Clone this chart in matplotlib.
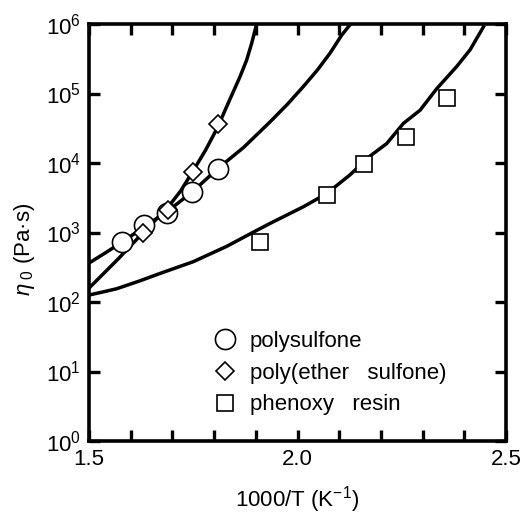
import numpy as np
import matplotlib
matplotlib.use("Agg")
import matplotlib.pyplot as plt
from matplotlib.ticker import MultipleLocator, LogFormatterSciNotation, FixedLocator, FixedFormatter, NullLocator

plt.rcParams['font.family'] = ['Liberation Sans', 'DejaVu Sans']
plt.rcParams['mathtext.fontset'] = 'custom'
plt.rcParams['mathtext.rm'] = 'Liberation Sans'
plt.rcParams['mathtext.it'] = 'Liberation Sans:italic'

# measured points
psf_x = [1.579, 1.632, 1.687, 1.747, 1.809]
psf_y = [730, 1300, 1900, 3800, 8200]
pes_x = [1.630, 1.689, 1.749, 1.809]
pes_y = [1000, 2100, 7400, 36500]
phx_x = [1.910, 2.071, 2.160, 2.260, 2.358]
phx_y = [730, 3450, 9700, 23600, 86000]

# fitted curves (log10 values)
psf_cx = [1.50, 1.540, 1.579, 1.632, 1.687, 1.747, 1.809, 1.870, 1.934, 1.975, 2.014, 2.048, 2.078, 2.106, 2.126]
psf_cl = [2.56, 2.71, 2.86, 3.08, 3.30, 3.58, 3.92, 4.22, 4.59, 4.84, 5.10, 5.34, 5.58, 5.84, 5.99]
pes_cx = [1.50, 1.535, 1.570, 1.630, 1.689, 1.720, 1.749, 1.780, 1.809, 1.830, 1.862, 1.878, 1.890, 1.902]
pes_cl = [2.20, 2.41, 2.62, 3.00, 3.36, 3.60, 3.88, 4.19, 4.52, 4.81, 5.24, 5.48, 5.72, 6.00]
phx_cx = [1.50, 1.530, 1.566, 1.620, 1.670, 1.750, 1.830, 1.902, 1.934, 2.014, 2.070, 2.126, 2.174, 2.214, 2.254,
          2.294, 2.334, 2.382, 2.414, 2.446]
phx_cl = [2.10, 2.14, 2.19, 2.30, 2.41, 2.58, 2.80, 3.03, 3.13, 3.37, 3.56, 3.83, 4.10, 4.28, 4.57,
          4.76, 5.07, 5.39, 5.63, 5.96]

labels = ['polysulfone', 'poly(ether   sulfone)', 'phenoxy   resin']
x_ticks = [1.5, 2.0, 2.5]
x_ticklabels = ['1.5', '2.0', '2.5']
y_ticks = [1e0, 1e1, 1e2, 1e3, 1e4, 1e5, 1e6]

fig = plt.figure(figsize=(5.26, 5.14), dpi=100)
ax = fig.add_axes([89/526, 1-441/514, (506-89)/526, (441-24)/514])

lw = 2.5
ax.plot(psf_cx, 10**np.array(psf_cl), color='black', lw=lw, zorder=2, solid_joinstyle='round')
ax.plot(pes_cx, 10**np.array(pes_cl), color='black', lw=lw, zorder=2, solid_joinstyle='round')
ax.plot(phx_cx, 10**np.array(phx_cl), color='black', lw=lw, zorder=2, solid_joinstyle='round')

h1, = ax.plot(psf_x, psf_y, ls='none', marker='o', ms=14.5, mfc='white', mec='black', mew=1.2, zorder=3)
h2, = ax.plot(pes_x, pes_y, ls='none', marker='D', ms=9.5, mfc='white', mec='black', mew=1.2, zorder=4)
h3, = ax.plot(phx_x, phx_y, ls='none', marker='s', ms=12, mfc='white', mec='black', mew=1.2, zorder=3)

ax.set_yscale('log')
ax.set_xlim(1.5, 2.5)
ax.set_ylim(1, 1e6)

ax.xaxis.set_major_locator(FixedLocator(x_ticks))
ax.xaxis.set_major_formatter(FixedFormatter(x_ticklabels))
ax.xaxis.set_minor_locator(MultipleLocator(0.1))
ax.yaxis.set_major_locator(FixedLocator(y_ticks))
ax.yaxis.set_major_formatter(LogFormatterSciNotation())
ax.yaxis.set_minor_locator(NullLocator())

ax.tick_params(which='both', direction='in', top=True, right=True, width=2.4, length=8)
ax.tick_params(which='major', labelsize=16, pad=6)
for s in ax.spines.values():
    s.set_linewidth(2.6)

ax.set_xlabel('1000/T (K$^{-1}$)', fontsize=16, labelpad=10)
ax.set_ylabel(r'$\mathit{\eta}_{\ 0}$ (Pa·s)', fontsize=16)
ax.yaxis.set_label_coords(-0.125, 0.46)

leg = ax.legend([h1, h2, h3], labels, loc='upper left', bbox_to_anchor=(214/526, 1-331/514),
                bbox_transform=fig.transFigure, frameon=False, fontsize=16, handlelength=1.0,
                handletextpad=0.62, labelspacing=0.48, borderpad=0, borderaxespad=0, numpoints=1)

fig.savefig('out.png', dpi=100)
